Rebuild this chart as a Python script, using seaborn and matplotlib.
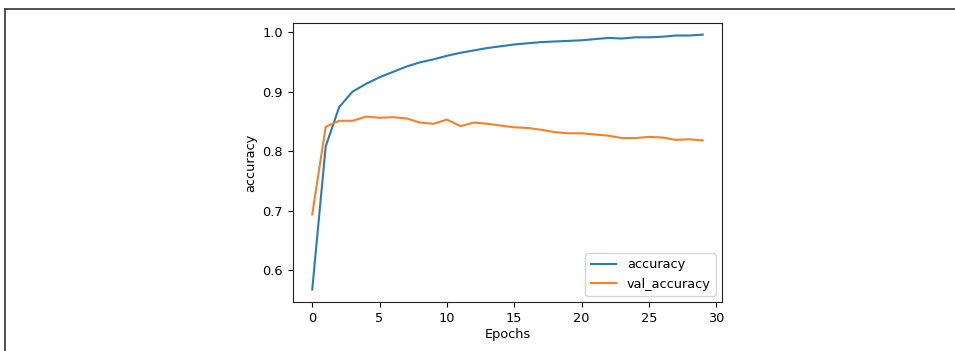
import numpy as np
import pandas as pd
import matplotlib
matplotlib.use("Agg")
import matplotlib.pyplot as plt
from matplotlib.lines import Line2D
import seaborn as sns

epochs = list(range(30))
accuracy = [0.568, 0.808, 0.874, 0.900, 0.913, 0.924, 0.933, 0.942, 0.949, 0.954,
            0.960, 0.965, 0.969, 0.973, 0.976, 0.979, 0.981, 0.983, 0.984, 0.985,
            0.986, 0.988, 0.990, 0.989, 0.991, 0.991, 0.992, 0.994, 0.994, 0.9955]
val_accuracy = [0.694, 0.841, 0.851, 0.851, 0.858, 0.856, 0.857, 0.855, 0.848, 0.846,
                0.853, 0.842, 0.848, 0.846, 0.843, 0.840, 0.839, 0.836, 0.832, 0.830,
                0.830, 0.828, 0.826, 0.822, 0.822, 0.824, 0.823, 0.819, 0.820, 0.818]
series_names = ["accuracy", "val_accuracy"]

df = pd.DataFrame({
    "Epochs": epochs * 2,
    "value": accuracy + val_accuracy,
    "metric": [series_names[0]] * len(epochs) + [series_names[1]] * len(epochs),
})

FS = 9.3
plt.rcParams["font.family"] = ["DejaVu Sans"]
plt.rcParams["font.size"] = FS

fig = plt.figure(figsize=(9.55, 3.51), dpi=100)
ax = fig.add_axes([0.3065, 0.1387, 0.4498, 0.7966])
sns.lineplot(data=df, x="Epochs", y="value", hue="metric",
             palette=["#2b7bb5", "#f5822a"], linewidth=1.5, ax=ax)
ax.set_xlabel("Epochs", fontsize=FS, labelpad=2)
ax.set_ylabel("accuracy", fontsize=FS)
ax.set_xticks([0, 5, 10, 15, 20, 25, 30])
ax.set_yticks([0.6, 0.7, 0.8, 0.9, 1.0])
ax.tick_params(labelsize=FS, length=3.5)
ax.set_xlim(-1.45, 30.45)
ax.set_ylim(0.5465, 1.0155)
leg = ax.legend(loc="lower right", fontsize=FS, title=None)
for spine in ax.spines.values():
    spine.set_color("#222222")

# outer frame of the screenshot
fig.add_artist(Line2D([4.5 / 955, 1.0], [1 - 8.5 / 351, 1 - 8.5 / 351],
                      transform=fig.transFigure, color="#333333", lw=1.2))
fig.add_artist(Line2D([4.5 / 955, 4.5 / 955], [0.0, 1 - 8.5 / 351],
                      transform=fig.transFigure, color="#333333", lw=1.2))

fig.savefig("out.png", dpi=100)
